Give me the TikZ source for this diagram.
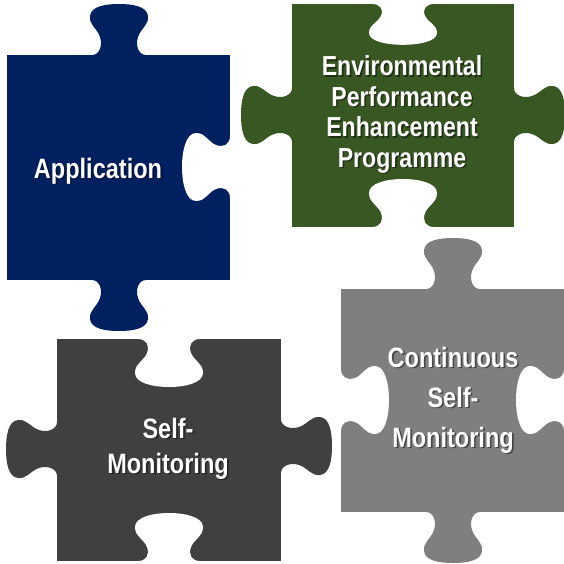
\documentclass[tikz,border=0pt]{standalone}
\usepackage{fontspec}
\setmainfont{Liberation Sans}[FakeStretch=0.84]
\definecolor{navy}{RGB}{0,32,96}
\definecolor{moss}{RGB}{56,87,35}
\definecolor{coal}{RGB}{64,64,64}
\definecolor{ash}{RGB}{127,127,127}

\tikzset{
	% tab sticking out of an edge, outward = +y
	knob/.pic={
		\fill[#1] (-27,-3) -- (-27,0) .. controls (-20,0) and (-16,9) .. (-19,18)
			.. controls (-22,27) and (-30,30) .. (-29,39)
			.. controls (-28,49) and (-13,51) .. (0,51)
			.. controls (13,51) and (28,49) .. (29,39)
			.. controls (30,30) and (22,27) .. (19,18)
			.. controls (16,9) and (20,0) .. (27,0) -- (27,-3) -- cycle;
	},
	% hole cut into an edge, inward = +y
	slot/.pic={
		\fill[white] (-31,-3) -- (-31,0) .. controls (-23,0) and (-19,6) .. (-22,14)
			.. controls (-25,22) and (-34,24) .. (-34,34)
			.. controls (-34,44) and (-16,48) .. (0,48)
			.. controls (16,48) and (34,44) .. (34,34)
			.. controls (34,24) and (25,22) .. (22,14)
			.. controls (19,6) and (23,0) .. (31,0) -- (31,-3) -- cycle;
	}
}

\newcommand{\puzlabel}[4]{%
	\node[lbl,lblshadow,font=\bfseries#3] at (#2) {#4};
	\node[lbl,font=\bfseries#3] (#1) at (#2) {#4};}

\begin{document}
\begin{tikzpicture}[x=1pt,y=-1pt,
		lbl/.style={text=white,align=center,inner sep=0pt},
		lblshadow/.style={text=black,opacity=.45,xshift=1.6pt,yshift=-1.6pt}]
	\useasboundingbox (0,0) rectangle (564,563);

	% application
	\fill[navy] (7,55) rectangle (230,280);
	\pic[rotate=180] at (119,55) {knob=navy};
	\pic at (119,280) {knob=navy};
	\pic[rotate=-90] at (230,167) {slot};

	% programme
	\fill[moss] (292,4) rectangle (514,227);
	\pic[rotate=-90] at (292,115) {knob=moss};
	\pic[rotate=90] at (514,115) {knob=moss};
	\pic[yscale=.85] at (403,4) {slot};
	\pic[rotate=180] at (403,227) {slot};

	% self-monitoring
	\fill[coal] (57,339) rectangle (281,561);
	\pic[rotate=-90] at (57,449) {knob=coal};
	\pic[rotate=90] at (281,446) {knob=coal};
	\pic at (169,339) {slot};
	\pic[rotate=180] at (169,561) {slot};

	% continuous self-monitoring
	\fill[ash] (341,289) rectangle (564,512);
	\pic[rotate=180] at (453,289) {knob=ash};
	\pic at (453,512) {knob=ash};
	\pic[rotate=90] at (341,400) {slot};
	\pic[rotate=-90] at (564,400) {slot};

	\puzlabel{app}{98,171}{\fontsize{28}{31}\selectfont}{Application}
	\puzlabel{epep}{402,114.5}{\fontsize{27.5}{30.5}\selectfont}{Environmental\\Performance\\Enhancement\\Programme}
	\puzlabel{selfmon}{168,448.5}{\fontsize{28}{35}\selectfont}{Self-\\Monitoring}
	\puzlabel{contmon}{453,400}{\fontsize{28}{40}\selectfont}{Continuous\\Self-\\Monitoring}
\end{tikzpicture}
\end{document}
